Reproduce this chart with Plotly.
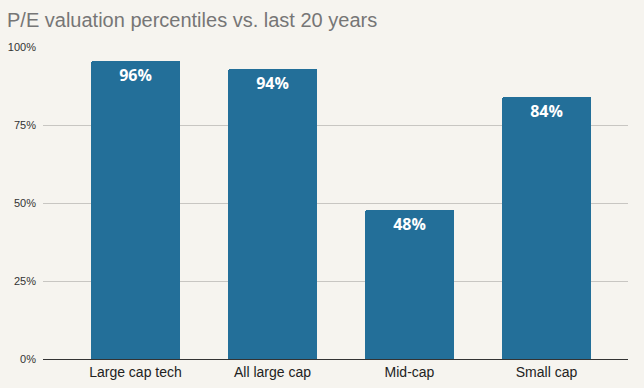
import plotly.graph_objects as go

categories = ["Large cap tech", "All large cap", "Mid-cap", "Small cap"]
values = [95.4, 93.1, 47.8, 84.0]
labels = ["96%", "94%", "48%", "84%"]
y_ticks = [0, 25, 50, 75, 100]
y_tick_labels = ["0%", "25%", "50%", "75%", "100%"]

fig = go.Figure(go.Bar(
    x=list(range(len(categories))), y=values, text=labels,
    textposition="inside", insidetextanchor="end",
    textfont=dict(family="Open Sans", size=16, color="white", weight="bold"),
    marker=dict(color="#236f99", cornerradius=2, line=dict(width=0)),
    width=0.65,
))
fig.update_layout(
    width=644, height=388,
    paper_bgcolor="#f6f4ef", plot_bgcolor="#f6f4ef",
    margin=dict(l=43, r=16, t=47, b=29, autoexpand=False),
    title=dict(text="P/E valuation percentiles vs. last 20 years",
               xref="container", x=7/644, xanchor="left",
               yref="container", y=1 - 20/388, yanchor="middle",
               font=dict(family="Liberation Sans, Arial", size=20, color="#767676")),
    showlegend=False,
    xaxis=dict(range=[-0.675, 3.595], tickvals=list(range(len(categories))),
               ticktext=categories, showgrid=False, showline=True,
               linecolor="#333333", linewidth=1, ticks="", automargin=False,
               tickfont=dict(family="Liberation Sans, Arial", size=14, color="#222222"),
               fixedrange=True),
    yaxis=dict(range=[0, 100], tickvals=y_ticks, ticktext=y_tick_labels,
               showgrid=True, gridcolor="#c8c6c2", gridwidth=1, automargin=False,
               zeroline=False, ticks="", ticklabelstandoff=6,
               tickfont=dict(family="Liberation Sans, Arial", size=11, color="#333333")),
    bargap=0,
)
fig.write_html(
    "out.html",
    config={"displayModeBar": False},
    post_script="document.body.style.margin='0';document.body.style.overflow='hidden';",
)
